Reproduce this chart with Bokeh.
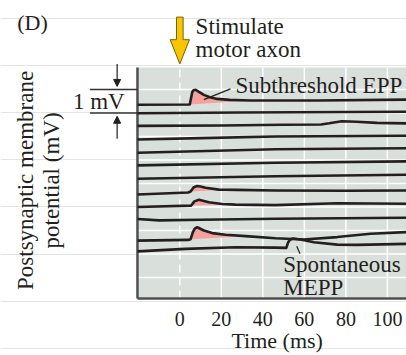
import math
from bokeh.plotting import figure
from bokeh.models import Range1d, FixedTicker, Label, Arrow, NormalHead
from bokeh.embed import file_html
from bokeh.resources import INLINE

FONT = "Liberation Serif"
INK = "#231f20"
PINK = "#f5a19d"
GOLD = "#f7c600"
PANEL = "#d9dfdb"
AXIS = "#505050"

# ---------------- data ----------------
X_TICKS = [0, 20, 40, 60, 80, 100]
GRID_T = [20, 40, 60, 80, 100]
GRID_MV = [1, 2, 3, 4, 5, 6, 7, 8, 9]
STIM_T = 0
SCALE_MV = [8, 9]          # the 1 mV calibration bar

# recording panel extent (time in ms, potential in mV)
PANEL_T = [-20.4, 109.2]
PANEL_V = [0.106, 9.936]

# traces, top to bottom: time (ms) and potential (mV, stacked offset)
T1 = [-20.4, 4.8, 6.0, 6.6, 7.6, 9.0, 11.6, 14.5, 18.0, 24.0, 34.1, 66.2, 109.2]
V1 = [8.35, 8.36, 8.89, 8.97, 8.99, 8.91, 8.77, 8.67, 8.60, 8.56, 8.53, 8.53, 8.57]
T2 = [-20.4, 30, 109.2]
V2 = [7.99, 8.02, 8.05]
T3 = [-20.4, 20, 50, 68, 72, 78, 85, 95, 109.2]
V3 = [7.45, 7.47, 7.50, 7.51, 7.56, 7.65, 7.63, 7.58, 7.56]
T4 = [-20.4, 10, 46, 109.2]
V4 = [6.87, 6.93, 7.00, 7.03]
T5 = [-20.4, 46, 109.2]
V5 = [6.31, 6.46, 6.50]
T6 = [-20.4, 46, 109.2]
V6 = [5.77, 5.88, 5.94]
T7 = [-20.4, 46, 109.2]
V7 = [5.20, 5.31, 5.37]
T8 = [-20.4, 4.0, 5.2, 6.7, 8.4, 10.0, 12.4, 18.8, 22.0, 26.8, 46.1, 80, 109.2]
V8 = [4.53, 4.62, 4.66, 4.84, 4.89, 4.87, 4.82, 4.74, 4.735, 4.73, 4.70, 4.69, 4.70]
T9 = [-20.4, 5.5, 7.0, 9.2, 14.0, 20.4, 26.8, 46.0, 75.8, 109.2]
V9 = [4.00, 4.06, 4.24, 4.31, 4.20, 4.13, 4.10, 4.08, 4.16, 4.14]
T10 = [-20.4, -10, 10, 46, 109.2]
V10 = [3.49, 3.43, 3.46, 3.50, 3.54]
T11 = [-20.4, 4.3, 5.2, 6.3, 7.2, 8.4, 11.6, 15.6, 22.0, 31.7, 46.1, 59.7, 75.8, 91.9, 109.2]
V11 = [2.57, 2.60, 2.63, 2.93, 3.08, 3.14, 3.00, 2.89, 2.82, 2.76, 2.67, 2.62, 2.72, 2.86, 2.93]
T12 = [-20.4, 2.7, 26.8, 46.0, 51.3, 52.2, 53.2, 54.5, 58.2, 64.6, 75.8, 85.5, 109.2]
V12 = [2.11, 2.22, 2.29, 2.27, 2.26, 2.50, 2.62, 2.66, 2.62, 2.50, 2.40, 2.39, 2.43]

TRACES = [(T1, V1), (T2, V2), (T3, V3), (T4, V4), (T5, V5), (T6, V6),
          (T7, V7), (T8, V8), (T9, V9), (T10, V10), (T11, V11), (T12, V12)]
# shaded EPP areas: (trace index, start ms, end ms)
EPP_FILLS = [(0, 4.8, 34.1), (7, 5.2, 22.0), (8, 5.5, 26.8), (10, 5.2, 31.7)]

# callout leader lines
EPP_LEADER_T = [11.6, 24.4]
EPP_LEADER_V = [8.57, 9.03]
MEPP_LEADER_T = [56.3, 57.9]
MEPP_LEADER_V = [2.33, 2.01]

# ---------------- figure ----------------
p = figure(width=406, height=355,
           x_range=Range1d(-86.38, 109.2), y_range=Range1d(-2.319, 12.787),
           output_backend="svg", toolbar_location=None, y_axis_location=None,
           min_border_left=0, min_border_right=0,
           min_border_top=0, min_border_bottom=0)
p.background_fill_color = "white"
p.border_fill_color = "white"
p.outline_line_color = None
p.xgrid.visible = False

# grey recording panel
p.quad(left=[PANEL_T[0]], right=[PANEL_T[1]], bottom=[PANEL_V[0]], top=[PANEL_V[1]],
       fill_color=PANEL, line_color=None)
# grid lines
p.segment(x0=GRID_T, y0=[PANEL_V[0]] * len(GRID_T), x1=GRID_T, y1=[PANEL_V[1]] * len(GRID_T),
          line_color="white", line_width=1.5)
p.segment(x0=[PANEL_T[0]] * len(GRID_MV), y0=GRID_MV, x1=[PANEL_T[1]] * len(GRID_MV), y1=GRID_MV,
          line_color="white", line_width=1.3)
p.segment(x0=[STIM_T], y0=[PANEL_V[0]], x1=[STIM_T], y1=[PANEL_V[1]],
          line_color="white", line_width=1.5, line_dash="8 5")
# left border of panel
p.segment(x0=[PANEL_T[0]], y0=[PANEL_V[0]], x1=[PANEL_T[0]], y1=[PANEL_V[1]],
          line_color=AXIS, line_width=2.5)

# x axis, pinned to the bottom edge of the recording panel
ax = p.xaxis[0]
ax.fixed_location = PANEL_V[0]
ax.ticker = FixedTicker(ticks=X_TICKS)
ax.bounds = (PANEL_T[0], PANEL_T[1])
ax.axis_line_color = AXIS
ax.axis_line_width = 2.5
ax.major_tick_out = 0
ax.major_tick_in = 0
ax.minor_tick_out = 0
ax.minor_tick_in = 0
ax.major_label_text_font = FONT
ax.major_label_text_font_size = "20px"
ax.major_label_text_color = INK
ax.major_label_standoff = 13

# pink EPP areas
for idx, t0, t1 in EPP_FILLS:
    ts, vs = TRACES[idx]
    xs = [t for t in ts if t0 <= t <= t1]
    ys = [v for t, v in zip(ts, vs) if t0 <= t <= t1]
    p.patch(xs, ys, fill_color=PINK, line_color=None)

# traces
for ts, vs in TRACES:
    p.line(ts, vs, line_color=INK, line_width=2.6, line_join="round")

# leader lines
p.line(EPP_LEADER_T, EPP_LEADER_V, line_color=INK, line_width=1.3)
p.line(MEPP_LEADER_T, MEPP_LEADER_V, line_color=INK, line_width=1.2)


def lab(x, y, text, align="left", size="23px", baseline="alphabetic", angle=0.0):
    p.add_layout(Label(x=x, y=y, text=text, text_font=FONT, text_font_size=size,
                       text_color=INK, text_align=align, text_baseline=baseline,
                       angle=angle, text_line_height=1.05))


lab(26.8, 9.15, "Subthreshold EPP")
lab(49.8, 1.56, "Spontaneous")
lab(49.8, 0.59, "MEPP")
lab(7.6, 11.66, "Stimulate")
lab(7.6, 10.71, "motor axon")
lab(-78.3, 11.84, "(D)", size="22px")
lab(-39.0, 8.48, "1 mV", align="center")
lab(-68.1, 5.13, "Postsynaptic membrane\npotential (mV)", align="center",
    baseline="middle", angle=math.pi / 2)
lab(46.9, -1.66, "Time (ms)", align="center", size="22px")

# stimulus arrow (yellow)
s = STIM_T
p.patch([s - 1.6, s + 1.6, s + 1.6, s + 4.65, s, s - 4.65, s - 1.6],
        [12.08, 12.08, 11.12, 11.12, 10.09, 11.12, 11.12],
        fill_color=GOLD, line_color="#7a6200", line_width=1)

# 1 mV calibration bar
p.segment(x0=[-43.3] * 2, y0=SCALE_MV, x1=[PANEL_T[0]] * 2, y1=SCALE_MV,
          line_color="#333333", line_width=1.3)
p.add_layout(Arrow(x_start=-30.2, y_start=SCALE_MV[1] + 1.09, x_end=-30.2, y_end=SCALE_MV[1] + 0.13,
                   end=NormalHead(size=7, fill_color=INK, line_color=INK),
                   line_color=INK, line_width=1.2))
p.add_layout(Arrow(x_start=-30.2, y_start=SCALE_MV[0] - 1.1, x_end=-30.2, y_end=SCALE_MV[0] - 0.14,
                   end=NormalHead(size=7, fill_color=INK, line_color=INK),
                   line_color=INK, line_width=1.2))

open("out.html", "w").write(file_html(p, INLINE))
